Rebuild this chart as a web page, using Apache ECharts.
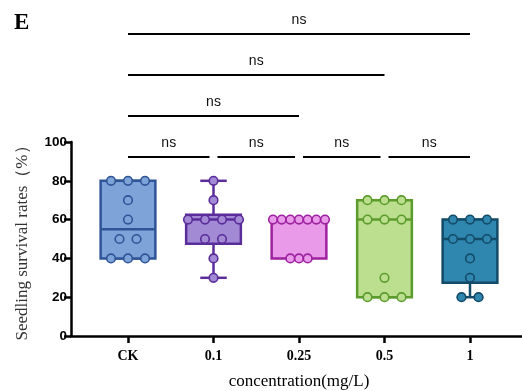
<!DOCTYPE html>
<html><head><meta charset="utf-8">
<script src="https://cdn.jsdelivr.net/npm/echarts@6/dist/echarts.min.js"></script>
<style>html,body{margin:0;padding:0;background:#fff}#c{width:522px;height:391px}</style>
</head><body><div id="c"></div>
<script>
const categories = ['CK', '0.1', '0.25', '0.5', '1'];
const ckValues = [80, 80, 80, 70, 60, 50, 50, 40, 40, 40];
const c01Values = [80, 70, 60, 60, 60, 60, 50, 50, 40, 30];
const c025Values = [60, 60, 60, 60, 60, 60, 60, 40, 40, 40];
const c05Values = [70, 70, 70, 60, 60, 60, 30, 20, 20, 20];
const c1Values = [60, 60, 60, 50, 50, 50, 40, 30, 20, 20];
const yTicks = [0, 20, 40, 60, 80, 100];
const sigPairs = [[0, 1], [1, 2], [2, 3], [3, 4], [0, 2], [0, 3], [0, 4]];
const sigLabels = ['ns', 'ns', 'ns', 'ns', 'ns', 'ns', 'ns'];

const groups = [ckValues, c01Values, c025Values, c05Values, c1Values];
const fills = ['#7EA3D9', '#A28AD5', '#E99AE8', '#BBDF8E', '#2F87B0'];
const strokes = ['#2F5597', '#5B2D9B', '#9E22A0', '#5C9C2D', '#134B68'];

function quant(s, p) {
  const n = s.length, pos = p * (n + 1);
  if (pos <= 1) return s[0];
  if (pos >= n) return s[n - 1];
  const lo = Math.floor(pos), f = pos - lo;
  return s[lo - 1] + f * (s[lo] - s[lo - 1]);
}
const boxData = groups.map((g, i) => {
  const s = g.slice().sort((a, b) => a - b);
  return [i, s[0], quant(s, 0.25), quant(s, 0.5), quant(s, 0.75), s[s.length - 1]];
});
const pointData = [];
groups.forEach((g, i) => {
  const counts = {};
  g.forEach(v => counts[v] = (counts[v] || 0) + 1);
  const maxC = Math.max(...Object.values(counts));
  const sp = maxC > 1 ? Math.min(17, 52 / (maxC - 1)) : 0;
  Object.keys(counts).forEach(k => {
    const c = counts[k];
    for (let j = 0; j < c; j++) pointData.push([i, +k, (j - (c - 1) / 2) * sp]);
  });
});
const sigData = sigPairs.map((p, k) => [p[0], p[1], p[1] - p[0] === 1 ? 0 : p[1] - p[0] - 1, k]);

const chart = echarts.init(document.getElementById('c'));
const TOP = 142, BOTTOM = 55;
chart.setOption({
  animation: false,
  title: { text: 'E', left: 9, top: 7, textStyle: { fontFamily: 'Liberation Serif', fontSize: 23, fontWeight: 'bold', color: '#000' } },
  grid: [
    { left: 71, right: 0, top: TOP, bottom: BOTTOM },
    { left: 85.25, width: 427.5, top: TOP, bottom: BOTTOM }
  ],
  xAxis: [
    { gridIndex: 0, type: 'value', min: 0, max: 1, axisLine: { show: true, lineStyle: { color: '#000', width: 2.5 } },
      axisTick: { show: false }, axisLabel: { show: false }, splitLine: { show: false } },
    { gridIndex: 1, type: 'category', data: categories, axisLine: { show: false },
      axisTick: { show: true, alignWithLabel: true, length: 7, lineStyle: { color: '#000', width: 2.5 } },
      axisLabel: { margin: 13, color: '#000', fontFamily: 'Liberation Serif', fontWeight: 'bold', fontSize: 14 },
      name: 'concentration(mg/L)', nameLocation: 'middle', nameGap: 37,
      nameTextStyle: { fontFamily: 'Liberation Serif', fontSize: 17, color: '#000' } }
  ],
  yAxis: [
    { gridIndex: 0, type: 'value', min: yTicks[0], max: yTicks[yTicks.length - 1], interval: yTicks[1] - yTicks[0],
      axisLine: { show: true, lineStyle: { color: '#000', width: 2.5 } },
      axisTick: { show: true, length: 7, lineStyle: { color: '#000', width: 2.5 } },
      axisLabel: { margin: 4, color: '#000', fontFamily: 'Liberation Sans', fontWeight: 'bold', fontSize: 13.5 },
      splitLine: { show: false },
      name: 'Seedling survival rates（%）', nameLocation: 'middle', nameGap: 40,
      nameTextStyle: { fontFamily: 'Liberation Serif', fontSize: 17, color: '#333' } },
    { gridIndex: 1, type: 'value', min: 0, max: 100, show: false }
  ],
  series: [
    {
      type: 'custom', xAxisIndex: 1, yAxisIndex: 1, data: boxData, z: 2, clip: false,
      renderItem: function (params, api) {
        const i = api.value(0);
        const bw = api.size([1, 0])[0] * 0.64, cw = api.size([1, 0])[0] * 0.31;
        const pMin = api.coord([i, api.value(1)]), pQ1 = api.coord([i, api.value(2)]);
        const pMed = api.coord([i, api.value(3)]), pQ3 = api.coord([i, api.value(4)]);
        const pMax = api.coord([i, api.value(5)]);
        const x = pMed[0], sc = strokes[i], lw = 2.5;
        const ls = { stroke: sc, lineWidth: lw };
        return { type: 'group', children: [
          { type: 'line', shape: { x1: x, y1: pMax[1], x2: x, y2: pQ3[1] }, style: ls },
          { type: 'line', shape: { x1: x, y1: pQ1[1], x2: x, y2: pMin[1] }, style: ls },
          { type: 'line', shape: { x1: x - cw / 2, y1: pMax[1], x2: x + cw / 2, y2: pMax[1] }, style: ls },
          { type: 'line', shape: { x1: x - cw / 2, y1: pMin[1], x2: x + cw / 2, y2: pMin[1] }, style: ls },
          { type: 'rect', shape: { x: x - bw / 2, y: pQ3[1], width: bw, height: pQ1[1] - pQ3[1] }, style: { fill: fills[i], stroke: sc, lineWidth: lw } },
          { type: 'line', shape: { x1: x - bw / 2, y1: pMed[1], x2: x + bw / 2, y2: pMed[1] }, style: ls }
        ] };
      }
    },
    {
      type: 'custom', xAxisIndex: 1, yAxisIndex: 1, data: pointData, z: 3, clip: false,
      renderItem: function (params, api) {
        const i = api.value(0);
        const p = api.coord([i, api.value(1)]);
        return { type: 'circle', shape: { cx: p[0] + api.value(2), cy: p[1], r: 4.3 },
          style: { fill: fills[i], stroke: strokes[i], lineWidth: 1.6 } };
      }
    },
    {
      type: 'custom', xAxisIndex: 1, yAxisIndex: 1, data: sigData, z: 4, clip: false,
      renderItem: function (params, api) {
        const a = api.value(0), b = api.value(1), lvl = api.value(2), k = api.value(3);
        const top = api.coord([0, 100])[1];
        const y = top + 15 - lvl * 41;
        let x1 = api.coord([a, 0])[0], x2 = api.coord([b, 0])[0];
        if (lvl === 0) {
          if (a > 0) x1 += 4;
          if (b < categories.length - 1) x2 -= 4;
        }
        return { type: 'group', children: [
          { type: 'line', shape: { x1: x1, y1: y, x2: x2, y2: y }, style: { stroke: '#000', lineWidth: 1.8 } },
          { type: 'text', style: { x: (x1 + x2) / 2, y: y - 14, text: sigLabels[k], fill: '#111',
            font: '14px Liberation Sans', textAlign: 'center', textVerticalAlign: 'middle' } }
        ] };
      }
    }
  ]
});
</script></body></html>
